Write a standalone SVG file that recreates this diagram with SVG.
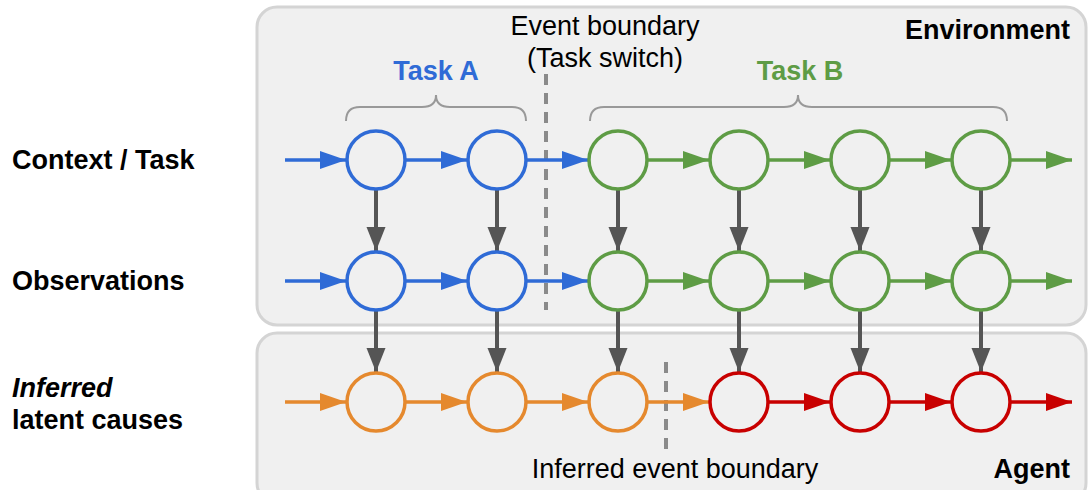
<svg xmlns="http://www.w3.org/2000/svg" width="1088" height="490" viewBox="0 0 1088 490">
<style>
.box{fill:#f0f0f0;stroke:#d4d4d4;stroke-width:3}
.lbl{font-family:"Liberation Sans",Arial,sans-serif;font-size:27px;font-weight:bold;fill:#000}
.reg{font-family:"Liberation Sans",Arial,sans-serif;font-size:27px;fill:#000}
.c{fill:none;stroke-width:3.5}
.blue{stroke:#2f6bd6}
.green{stroke:#5e9c45}
.orange{stroke:#e5892e}
.red{stroke:#c80000}
.ha{stroke-width:3.5;fill:none}
.va{stroke:#555;stroke-width:4;fill:none;marker-end:url(#mg)}
.dash{stroke:#8a8a8a;stroke-width:4;stroke-dasharray:11 8;fill:none}
.br{fill:none;stroke:#999;stroke-width:2}
</style>
<defs>
<marker id="mb" markerUnits="userSpaceOnUse" markerWidth="27" markerHeight="20" refX="26" refY="10" orient="auto"><path d="M0,1 L26,10 L0,19 Z" fill="#2f6bd6"/></marker>
<marker id="mgr" markerUnits="userSpaceOnUse" markerWidth="27" markerHeight="20" refX="26" refY="10" orient="auto"><path d="M0,1 L26,10 L0,19 Z" fill="#5e9c45"/></marker>
<marker id="mo" markerUnits="userSpaceOnUse" markerWidth="27" markerHeight="20" refX="26" refY="10" orient="auto"><path d="M0,1 L26,10 L0,19 Z" fill="#e5892e"/></marker>
<marker id="mr" markerUnits="userSpaceOnUse" markerWidth="27" markerHeight="20" refX="26" refY="10" orient="auto"><path d="M0,1 L26,10 L0,19 Z" fill="#c80000"/></marker>
<marker id="mg" markerUnits="userSpaceOnUse" markerWidth="26" markerHeight="22" refX="24" refY="10.5" orient="auto"><path d="M0,1 L24,10.5 L0,20 Z" fill="#555"/></marker>
</defs>

<g id="environment">
<rect class="box" x="257" y="7" width="829" height="318" rx="20"/>
<text class="lbl" x="1070" y="39" text-anchor="end">Environment</text>
</g>
<g id="agent">
<rect class="box" x="257" y="333" width="829" height="170" rx="20"/>
<text class="lbl" x="1070" y="478" text-anchor="end">Agent</text>
</g>

<g id="row-labels">
<text class="lbl" x="12" y="169">Context / Task</text>
<text class="lbl" x="12" y="290">Observations</text>
<text class="lbl" x="12" y="397" font-style="italic">Inferred</text>
<text class="lbl" x="12" y="429">latent causes</text>
</g>

<g id="task-a">
<path class="br" d="M346,121 Q346,107 360,107 L422,107 Q436,107 436,95 Q436,107 450,107 L512,107 Q526,107 526,121"/>
<text class="lbl" x="436" y="80" text-anchor="middle" style="fill:#2f6bd6">Task A</text>
</g>
<g id="task-b">
<path class="br" d="M590,121 Q590,107 604,107 L784,107 Q798,107 798,95 Q798,107 812,107 L993,107 Q1007,107 1007,121"/>
<text class="lbl" x="800" y="80" text-anchor="middle" style="fill:#5e9c45">Task B</text>
</g>

<g id="event-boundary">
<line class="dash" x1="546" y1="74" x2="546" y2="310"/>
<text class="reg" x="605" y="35" text-anchor="middle">Event boundary</text>
<text class="reg" x="605" y="67" text-anchor="middle">(Task switch)</text>
</g>
<g id="inferred-boundary">
<line class="dash" x1="666" y1="362" x2="666" y2="456"/>
<text class="reg" x="675" y="478" text-anchor="middle">Inferred event boundary</text>
</g>

<g id="connectors">
<line class="ha" stroke="#2f6bd6" marker-end="url(#mb)" x1="285" y1="160" x2="346" y2="160"/>
<line class="ha" stroke="#2f6bd6" marker-end="url(#mb)" x1="406" y1="160" x2="467" y2="160"/>
<line class="ha" stroke="#2f6bd6" marker-end="url(#mb)" x1="527" y1="160" x2="588" y2="160"/>
<line class="ha" stroke="#5e9c45" marker-end="url(#mgr)" x1="648" y1="160" x2="709" y2="160"/>
<line class="ha" stroke="#5e9c45" marker-end="url(#mgr)" x1="769" y1="160" x2="830" y2="160"/>
<line class="ha" stroke="#5e9c45" marker-end="url(#mgr)" x1="890" y1="160" x2="951" y2="160"/>
<line class="ha" stroke="#5e9c45" marker-end="url(#mgr)" x1="1011" y1="160" x2="1072" y2="160"/>
<line class="ha" stroke="#2f6bd6" marker-end="url(#mb)" x1="285" y1="281" x2="346" y2="281"/>
<line class="ha" stroke="#2f6bd6" marker-end="url(#mb)" x1="406" y1="281" x2="467" y2="281"/>
<line class="ha" stroke="#2f6bd6" marker-end="url(#mb)" x1="527" y1="281" x2="588" y2="281"/>
<line class="ha" stroke="#5e9c45" marker-end="url(#mgr)" x1="648" y1="281" x2="709" y2="281"/>
<line class="ha" stroke="#5e9c45" marker-end="url(#mgr)" x1="769" y1="281" x2="830" y2="281"/>
<line class="ha" stroke="#5e9c45" marker-end="url(#mgr)" x1="890" y1="281" x2="951" y2="281"/>
<line class="ha" stroke="#5e9c45" marker-end="url(#mgr)" x1="1011" y1="281" x2="1072" y2="281"/>
<line class="ha" stroke="#e5892e" marker-end="url(#mo)" x1="285" y1="402" x2="346" y2="402"/>
<line class="ha" stroke="#e5892e" marker-end="url(#mo)" x1="406" y1="402" x2="467" y2="402"/>
<line class="ha" stroke="#e5892e" marker-end="url(#mo)" x1="527" y1="402" x2="588" y2="402"/>
<line class="ha" stroke="#e5892e" marker-end="url(#mo)" x1="648" y1="402" x2="709" y2="402"/>
<line class="ha" stroke="#c80000" marker-end="url(#mr)" x1="769" y1="402" x2="830" y2="402"/>
<line class="ha" stroke="#c80000" marker-end="url(#mr)" x1="890" y1="402" x2="951" y2="402"/>
<line class="ha" stroke="#c80000" marker-end="url(#mr)" x1="1011" y1="402" x2="1072" y2="402"/>
<line class="va" x1="376" y1="190" x2="376" y2="251"/>
<line class="va" x1="497" y1="190" x2="497" y2="251"/>
<line class="va" x1="618" y1="190" x2="618" y2="251"/>
<line class="va" x1="739" y1="190" x2="739" y2="251"/>
<line class="va" x1="860" y1="190" x2="860" y2="251"/>
<line class="va" x1="981" y1="190" x2="981" y2="251"/>
<line class="va" x1="376" y1="311" x2="376" y2="372"/>
<line class="va" x1="497" y1="311" x2="497" y2="372"/>
<line class="va" x1="618" y1="311" x2="618" y2="372"/>
<line class="va" x1="739" y1="311" x2="739" y2="372"/>
<line class="va" x1="860" y1="311" x2="860" y2="372"/>
<line class="va" x1="981" y1="311" x2="981" y2="372"/>
</g>

<g id="context-nodes">
<circle id="c1" class="c blue" cx="376" cy="160" r="29"/>
<circle id="c2" class="c blue" cx="497" cy="160" r="29"/>
<circle id="c3" class="c green" cx="618" cy="160" r="29"/>
<circle id="c4" class="c green" cx="739" cy="160" r="29"/>
<circle id="c5" class="c green" cx="860" cy="160" r="29"/>
<circle id="c6" class="c green" cx="981" cy="160" r="29"/>
</g>
<g id="observation-nodes">
<circle id="o1" class="c blue" cx="376" cy="281" r="29"/>
<circle id="o2" class="c blue" cx="497" cy="281" r="29"/>
<circle id="o3" class="c green" cx="618" cy="281" r="29"/>
<circle id="o4" class="c green" cx="739" cy="281" r="29"/>
<circle id="o5" class="c green" cx="860" cy="281" r="29"/>
<circle id="o6" class="c green" cx="981" cy="281" r="29"/>
</g>
<g id="latent-nodes">
<circle id="l1" class="c orange" cx="376" cy="402" r="29"/>
<circle id="l2" class="c orange" cx="497" cy="402" r="29"/>
<circle id="l3" class="c orange" cx="618" cy="402" r="29"/>
<circle id="l4" class="c red" cx="739" cy="402" r="29"/>
<circle id="l5" class="c red" cx="860" cy="402" r="29"/>
<circle id="l6" class="c red" cx="981" cy="402" r="29"/>
</g>
</svg>
